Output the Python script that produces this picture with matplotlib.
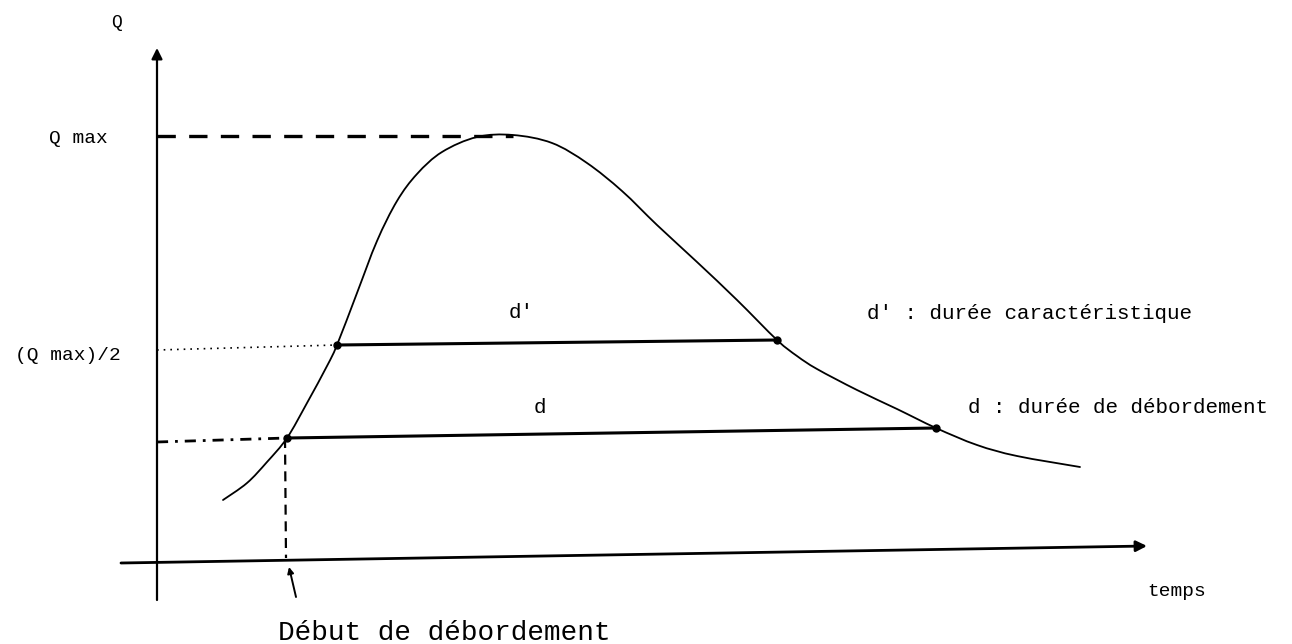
import matplotlib
matplotlib.use('Agg')
import matplotlib.pyplot as plt
from matplotlib.path import Path
from matplotlib.patches import PathPatch

# hydrograph (t along time axis, Q up the discharge axis)
t_curve = [66, 90, 110, 130, 150, 170, 180, 200, 220, 240, 260, 285, 320, 356,
           395, 430, 465, 500, 540, 580, 620, 640, 660, 700, 740, 779, 820, 860, 923]
q_curve = [63, 80, 101, 125, 160, 197, 218, 270, 322, 362, 389, 411, 426, 428,
           420, 400, 372, 338, 301, 263, 223, 207, 194, 173, 154, 135, 118, 107, 96]

q_max = 427
t_peak = 356
q_half = [213, 218]          # dotted level, axis -> curve
t_dprime = [180, 620]        # d' : durée caractéristique
q_dprime = [218, 223]
t_d = [130, 779]             # d : durée de débordement
q_d = [125, 135]
q_d_axis = 121
t_debut = 128

mono = 'Liberation Mono'


def smooth_path(xs, ys):
    # catmull-rom through the read points, drawn as cubic bezier segments
    verts = [(xs[0], ys[0])]
    codes = [Path.MOVETO]
    n = len(xs)
    for i in range(n - 1):
        x0, y0 = (xs[i - 1], ys[i - 1]) if i > 0 else (xs[i], ys[i])
        x3, y3 = (xs[i + 2], ys[i + 2]) if i + 2 < n else (xs[i + 1], ys[i + 1])
        c1 = (xs[i] + (xs[i + 1] - x0) / 6, ys[i] + (ys[i + 1] - y0) / 6)
        c2 = (xs[i + 1] - (x3 - xs[i]) / 6, ys[i + 1] - (y3 - ys[i]) / 6)
        verts += [c1, c2, (xs[i + 1], ys[i + 1])]
        codes += [Path.CURVE4] * 3
    return Path(verts, codes)


fig = plt.figure(figsize=(12.92, 6.44), dpi=100)
ax = fig.add_axes([0, 0, 1, 1])
ax.set_xlim(-157, 1135)
ax.set_ylim(-81, 563)
ax.axis('off')

# axes with arrows
ax.annotate('', xy=(0, 515), xytext=(0, -37),
            arrowprops=dict(arrowstyle='-|>', lw=1.6, color='black', mutation_scale=16,
                            shrinkA=0, shrinkB=0))
ax.annotate('', xy=(990, 17), xytext=(-36, 0),
            arrowprops=dict(arrowstyle='-|>', lw=2.0, color='black', mutation_scale=16,
                            shrinkA=0, shrinkB=0))

# reference lines
ax.plot([0, t_peak], [q_max, q_max], color='black', lw=2.4, dashes=(5.5, 4))
ax.plot([0, t_dprime[0]], q_half, color='black', lw=1.2, dashes=(1, 3))
ax.plot([0, t_d[0]], [q_d_axis, q_d[0]], color='black', lw=2.0, dashes=(4, 2.5, 1, 2.5))
ax.plot([t_debut, t_debut + 1], [q_d[0], 5], color='black', lw=1.6, dashes=(4.5, 3))

# hydrograph
ax.add_patch(PathPatch(smooth_path(t_curve, q_curve), fill=False, edgecolor='black',
                       lw=1.3, capstyle='round'))

# durations
ax.plot(t_dprime, q_dprime, color='black', lw=2.2, marker='o', markersize=5)
ax.plot(t_d, q_d, color='black', lw=2.2, marker='o', markersize=5)

# labels
ax.text(-40, 541, 'Q', fontsize=13, family=mono, ha='center', va='center')
ax.text(-79, 425, 'Q max', fontsize=14, family=mono, ha='center', va='center')
ax.text(-89, 208, '(Q max)/2', fontsize=14, family=mono, ha='center', va='center')
ax.text(364, 251, "d'", fontsize=15, family=mono, ha='center', va='center')
ax.text(383, 156, 'd', fontsize=15, family=mono, ha='center', va='center')
ax.text(710, 250, "d' : durée caractéristique", fontsize=15, family=mono, va='center')
ax.text(811, 156, 'd : durée de débordement', fontsize=15, family=mono, va='center')
ax.text(990, -29, 'temps', fontsize=14, family=mono, va='center')
ax.text(287, -77, 'Début de débordement', fontsize=20, family=mono, ha='center', va='baseline')

ax.annotate('', xy=(132, -4), xytext=(139, -34),
            arrowprops=dict(arrowstyle='-|>', lw=1.4, color='black', mutation_scale=9,
                            shrinkA=0, shrinkB=0))

plt.savefig('out.png', dpi=100)
